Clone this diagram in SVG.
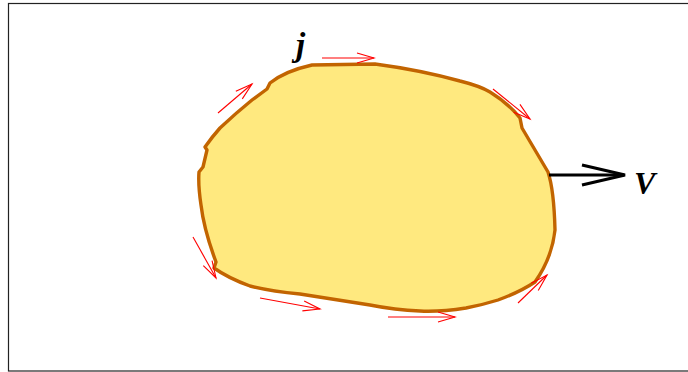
<svg xmlns="http://www.w3.org/2000/svg" width="688" height="372" viewBox="0 0 688 372">
<defs>
<style>
.frame{fill:none;stroke:#222;stroke-width:1.2}
.blob{fill:#FFE97F;stroke:#C26400;stroke-width:3.4;stroke-linejoin:round}
.cur{fill:none;stroke:#FF0000;stroke-width:1.1}
.lbl{font-family:"Liberation Serif",serif;font-style:italic;font-weight:bold;fill:#000}
</style>
<marker id="rh" markerUnits="userSpaceOnUse" markerWidth="24" markerHeight="14" viewBox="-20 -7 24 14" refX="0" refY="0" orient="auto">
<path d="M-17,-5 L0,0 L-17,5" fill="none" stroke="#FF0000" stroke-width="1.1"/>
</marker>
</defs>
<rect class="frame" x="8.5" y="3.5" width="690" height="367.5"/>
<g id="body">
<path class="blob" d="M312,65 L375,64 Q420,70 460,81 Q480,86 490,92 Q508,103 520,118 L522,128 L548,172 Q554,190 555,230 Q552,258 535,282 Q520,292 498,300 Q482,305 466,308 Q440,312 420,311 Q395,310 370,305 L300,294 Q270,291 250,286 Q228,278 214,268 L216,262 Q204,230 201,205 Q198,185 199,172 L203,167 L207,150 L205,147 Q212,137 220,128 Q236,113 252,100 L267,89 L270,83 Q285,71 312,65 Z"/>
</g>
<g id="connectors">
<path class="cur" d="M322,58 L374,58" marker-end="url(#rh)"/>
<path class="cur" d="M218,113 L252,84" marker-end="url(#rh)"/>
<path class="cur" d="M493,89 L530,119" marker-end="url(#rh)"/>
<path class="cur" d="M193,237 L216,278" marker-end="url(#rh)"/>
<path class="cur" d="M260,298 L320,309" marker-end="url(#rh)"/>
<path class="cur" d="M388,317 L455,317" marker-end="url(#rh)"/>
<path class="cur" d="M518,303 L547,275" marker-end="url(#rh)"/>
<g id="velocity">
<path d="M549,175 L624,175" fill="none" stroke="#000" stroke-width="3"/>
<path d="M582,165 L625,175 L582,185" fill="none" stroke="#000" stroke-width="3.2" stroke-linejoin="miter"/>
</g>
</g>
<g id="labels">
<text class="lbl" x="296" y="56" font-size="33">j</text>
<text class="lbl" x="634" y="194" font-size="32">V</text>
</g>
</svg>
